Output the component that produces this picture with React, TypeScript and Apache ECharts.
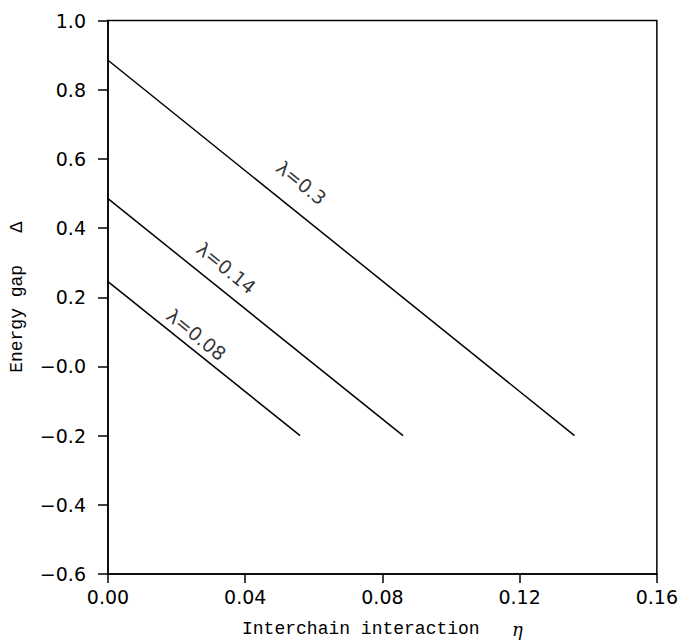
import React, { useEffect, useRef } from "react";
import * as echarts from "echarts";

// Curves: Energy gap Δ vs interchain interaction η for three λ values
const lambda03X = [0.0, 0.136];
const lambda03Y = [0.885, -0.2];
const lambda014X = [0.0, 0.086];
const lambda014Y = [0.485, -0.2];
const lambda008X = [0.0, 0.056];
const lambda008Y = [0.245, -0.2];

// Curve labels: [η, Δ] anchor and text
const curveLabelText = ["λ=0.3", "λ=0.14", "λ=0.08"];
const curveLabelX = [0.0564, 0.0345, 0.0258];
const curveLabelY = [0.531, 0.285, 0.092];

const yTickValues = [-0.6, -0.4, -0.2, 0.0, 0.2, 0.4, 0.6, 0.8, 1.0];
const yTickLabels = ["−0.6", "−0.4", "−0.2", "−0.0", "0.2", "0.4", "0.6", "0.8", "1.0"];
const xTickValues = [0.0, 0.04, 0.08, 0.12, 0.16];
const xTickLabels = ["0.00", "0.04", "0.08", "0.12", "0.16"];

const pair = (xs: number[], ys: number[]) => xs.map((x, i) => [x, ys[i]]);

const findLabel = (v: number, vals: number[], labels: string[]) => {
  let best = 0;
  for (let i = 0; i < vals.length; i++) {
    if (Math.abs(vals[i] - v) < Math.abs(vals[best] - v)) best = i;
  }
  return labels[best];
};

const TICK_FONT = "DejaVu Sans";
const TITLE_FONT = "Liberation Mono";

export default function App() {
  const ref = useRef<HTMLDivElement>(null);
  useEffect(() => {
    if (!ref.current) return;
    const chart = echarts.init(ref.current, undefined, { renderer: "svg" });
    const lineStyle = { color: "#000", width: 1.5 };
    const txt = { fontFamily: TITLE_FONT, fontSize: 18, color: "#000", lineHeight: 22, verticalAlign: "middle" };
    const greek = {
      fontFamily: "DejaVu Serif",
      fontStyle: "italic",
      fontSize: 18,
      color: "#000",
      lineHeight: 22,
      verticalAlign: "middle",
    };
    chart.setOption({
      animation: false,
      backgroundColor: "#fff",
      grid: {
        left: 108,
        right: 20,
        top: 20.5,
        bottom: 65.5,
        show: true,
        borderColor: "#000",
        borderWidth: 1.5,
      },
      xAxis: {
        type: "value",
        min: 0,
        max: 0.16,
        interval: 0.04,
        name: "{t|Interchain interaction   }{g|η}",
        nameLocation: "middle",
        nameGap: 44,
        nameTextStyle: {
          fontFamily: TITLE_FONT,
          fontSize: 18,
          color: "#000",
          rich: { t: txt, g: greek },
        },
        axisLine: { show: true, onZero: false, lineStyle: { color: "#000", width: 1.5 } },
        axisTick: { show: true, inside: false, length: 9, lineStyle: { color: "#000", width: 1.5 } },
        axisLabel: {
          fontFamily: TICK_FONT,
          fontSize: 19,
          color: "#000",
          margin: 13,
          formatter: (v: number) => findLabel(v, xTickValues, xTickLabels),
        },
        splitLine: { show: false },
      },
      yAxis: {
        type: "value",
        min: -0.6,
        max: 1.0,
        interval: 0.2,
        name: "Energy gap   Δ",
        nameLocation: "middle",
        nameGap: 82,
        nameRotate: 90,
        nameTextStyle: { fontFamily: TITLE_FONT, fontSize: 18, color: "#000" },
        axisLine: { show: true, onZero: false, lineStyle: { color: "#000", width: 1.5 } },
        axisTick: { show: true, inside: false, length: 10, lineStyle: { color: "#000", width: 1.5 } },
        axisLabel: {
          fontFamily: TICK_FONT,
          fontSize: 19,
          color: "#000",
          margin: 22,
          formatter: (v: number) => findLabel(v, yTickValues, yTickLabels),
        },
        splitLine: { show: false },
      },
      series: [
        { type: "line", data: pair(lambda03X, lambda03Y), symbol: "none", lineStyle, silent: true },
        { type: "line", data: pair(lambda014X, lambda014Y), symbol: "none", lineStyle, silent: true },
        { type: "line", data: pair(lambda008X, lambda008Y), symbol: "none", lineStyle, silent: true },
        {
          type: "scatter",
          symbolSize: 0,
          silent: true,
          data: curveLabelX.map((x, i) => ({ value: [x, curveLabelY[i]], name: curveLabelText[i] })),
          label: {
            show: true,
            position: "inside",
            rotate: -39,
            formatter: (p: any) => p.name,
            fontFamily: TICK_FONT,
            fontSize: 19,
            color: "#000",
            align: "center",
            verticalAlign: "middle",
          },
        },
      ],
    });
    return () => chart.dispose();
  }, []);
  return (
    <div
      ref={ref}
      style={{ position: "fixed", left: 0, top: 0, width: 681, height: 643, background: "#fff" }}
    />
  );
}
